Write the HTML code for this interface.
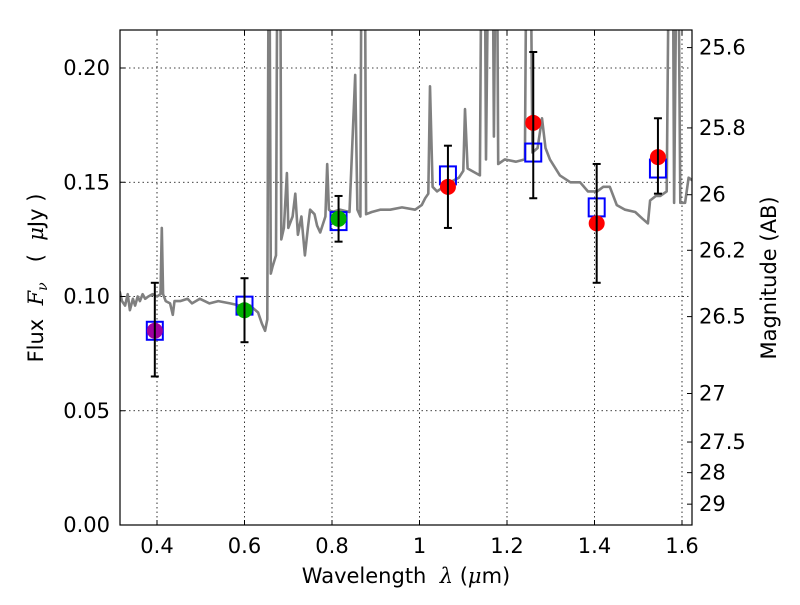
<!DOCTYPE html>
<html><head><meta charset="utf-8"><style>
body{margin:0;background:#fff}
svg text{font-family:"DejaVu Sans","Liberation Sans",sans-serif;fill:#000;white-space:pre}
</style></head><body>
<svg id="chart" width="800" height="600" viewBox="0 0 800 600" xmlns="http://www.w3.org/2000/svg">
<defs><clipPath id="clip"><rect x="120" y="30" width="572" height="495"/></clipPath></defs>
<rect width="800" height="600" fill="#fff"/>
<g id="grid"></g>
<g id="spec" clip-path="url(#clip)"></g>
<g id="marks" clip-path="url(#clip)"></g>
<rect x="120" y="30" width="572" height="495" fill="none" stroke="#000" stroke-width="1.2"/>
<g id="axes"></g>
<text x="406" y="583" font-size="21" text-anchor="middle">Wavelength  <tspan font-style="italic" font-family="DejaVu Serif,serif">λ</tspan> (<tspan font-style="italic" font-family="DejaVu Serif,serif">μ</tspan>m)</text>
<text transform="translate(43,278) rotate(-90)" font-size="21" text-anchor="middle">Flux  <tspan font-style="italic" font-family="DejaVu Serif,serif">F<tspan font-size="14" dy="4">ν</tspan></tspan><tspan dy="-4">   (  </tspan><tspan font-style="italic" font-family="DejaVu Serif,serif">μ</tspan>Jy )</text>
<text transform="translate(776,278) rotate(-90)" font-size="21" text-anchor="middle">Magnitude (AB)</text>
</svg>
<script>
const xTicks=[0.4,0.6,0.8,1.0,1.2,1.4,1.6];
const xTickLabels=["0.4","0.6","0.8","1","1.2","1.4","1.6"];
const yTicks=[0,0.05,0.10,0.15,0.20];
const yTickLabels=["0.00","0.05","0.10","0.15","0.20"];
const magTicks=[25.6,25.8,26,26.2,26.5,27,27.5,28,29];
const magTickLabels=["25.6","25.8","26","26.2","26.5","27","27.5","28","29"];
const specWave=[0.3066,0.315,0.320,0.327,0.333,0.338,0.345,0.350,0.356,0.361,0.367,0.373,0.380,0.390,0.400,0.408,0.411,0.414,0.420,0.430,0.436,0.440,0.453,0.470,0.480,0.498,0.520,0.540,0.567,0.590,0.613,0.631,0.640,0.647,0.652,0.656,0.660,0.664,0.672,0.676,0.681,0.684,0.690,0.697,0.700,0.710,0.716,0.722,0.730,0.738,0.745,0.750,0.760,0.766,0.773,0.785,0.789,0.793,0.800,0.818,0.840,0.853,0.858,0.865,0.868,0.874,0.878,0.891,0.910,0.933,0.960,0.990,1.005,1.013,1.020,1.024,1.030,1.040,1.070,1.090,1.100,1.104,1.110,1.138,1.143,1.148,1.152,1.160,1.166,1.170,1.176,1.180,1.195,1.220,1.241,1.246,1.252,1.258,1.270,1.280,1.288,1.298,1.321,1.345,1.367,1.385,1.406,1.420,1.435,1.451,1.470,1.493,1.510,1.522,1.527,1.540,1.550,1.565,1.572,1.578,1.582,1.590,1.596,1.607,1.615,1.6297];
const specFlux=[0.101,0.102,0.098,0.096,0.101,0.094,0.099,0.096,0.100,0.098,0.101,0.099,0.100,0.101,0.100,0.101,0.130,0.101,0.098,0.097,0.092,0.098,0.098,0.099,0.097,0.099,0.097,0.098,0.097,0.096,0.096,0.093,0.088,0.085,0.090,0.300,0.110,0.113,0.118,0.300,0.300,0.125,0.130,0.154,0.130,0.135,0.145,0.127,0.135,0.118,0.130,0.138,0.136,0.131,0.128,0.135,0.158,0.138,0.137,0.138,0.137,0.197,0.138,0.135,0.300,0.300,0.136,0.137,0.138,0.138,0.139,0.138,0.140,0.143,0.145,0.192,0.148,0.146,0.150,0.152,0.155,0.182,0.156,0.153,0.300,0.300,0.160,0.300,0.300,0.170,0.300,0.158,0.160,0.159,0.160,0.300,0.300,0.163,0.165,0.178,0.165,0.160,0.153,0.150,0.150,0.146,0.146,0.148,0.148,0.140,0.138,0.137,0.134,0.132,0.142,0.144,0.144,0.146,0.300,0.300,0.141,0.300,0.141,0.141,0.152,0.150];
const photWave=[0.395,0.600,0.815,1.065,1.260,1.405,1.545];
const photFlux=[0.085,0.094,0.134,0.148,0.176,0.132,0.161];
const photLo=[0.065,0.080,0.124,0.130,0.143,0.106,0.145];
const photHi=[0.106,0.108,0.144,0.166,0.207,0.158,0.178];
const photColor=["#a000a0","#00b000","#00b000","#ff0000","#ff0000","#ff0000","#ff0000"];
const modelFlux=[0.085,0.096,0.133,0.153,0.163,0.139,0.156];

const X0=0.4,PX0=157,PXU=437.5,Y0=525,PYU=2285;
const xs=l=>PX0+(l-X0)*PXU;
const ys=f=>Y0-f*PYU;
const magY=m=>ys(Math.pow(10,(23.9-m)/2.5));
const NS="http://www.w3.org/2000/svg";
function mk(tag,attrs,parent,text){const e=document.createElementNS(NS,tag);for(const k in attrs)e.setAttribute(k,attrs[k]);if(text!==undefined)e.textContent=text;parent.appendChild(e);return e;}
const grid=document.getElementById('grid'),axes=document.getElementById('axes'),spec=document.getElementById('spec'),marks=document.getElementById('marks');
xTicks.forEach((t,i)=>{const x=xs(t);
 const g=mk('line',{x1:x,x2:x,y1:30,y2:525,stroke:'#000','stroke-width':0.8,'stroke-dasharray':'1.5,3'},grid);
 
 mk('line',{x1:x,x2:x,y1:525,y2:520,stroke:'#000'},axes);
 mk('line',{x1:x,x2:x,y1:30,y2:35,stroke:'#000'},axes);
 const tl=mk('text',{x:x,y:553,'font-size':21,'text-anchor':'middle'},axes,xTickLabels[i]);
 });
yTicks.forEach((t,i)=>{const y=ys(t);
 const g=mk('line',{x1:120,x2:692,y1:y,y2:y,stroke:'#000','stroke-width':0.8,'stroke-dasharray':'1.5,3'},grid);
 
 mk('line',{x1:120,x2:125,y1:y,y2:y,stroke:'#000'},axes);
 const tl=mk('text',{x:110,y:y+7,'font-size':21,'text-anchor':'end'},axes,yTickLabels[i]);
 });
magTicks.forEach((m,i)=>{const y=magY(m);
 mk('line',{x1:692,x2:687,y1:y,y2:y,stroke:'#000'},axes);
 const tl=mk('text',{x:699,y:y+7,'font-size':21},axes,magTickLabels[i]);
 });
const sp=mk('polyline',{points:specWave.map((w,i)=>xs(w).toFixed(1)+','+ys(specFlux[i]).toFixed(1)).join(' '),fill:'none',stroke:'#808080','stroke-width':2.6,'stroke-linejoin':'round'},spec);

photWave.forEach((w,i)=>{const x=xs(w);
 const sq=mk('rect',{x:x-8,y:ys(modelFlux[i])-9,width:16,height:18,fill:'none',stroke:'#0000ff','stroke-width':2},marks);
 
 const c=mk('circle',{cx:x,cy:ys(photFlux[i]),r:8,fill:photColor[i]},marks);
 
 const eb=mk('g',{stroke:'#000','stroke-width':2},marks);
 
 mk('line',{x1:x,x2:x,y1:ys(photLo[i]),y2:ys(photHi[i])},eb);
 mk('line',{x1:x-4,x2:x+4,y1:ys(photLo[i]),y2:ys(photLo[i])},eb);
 mk('line',{x1:x-4,x2:x+4,y1:ys(photHi[i]),y2:ys(photHi[i])},eb);});
</script>
</body></html>
